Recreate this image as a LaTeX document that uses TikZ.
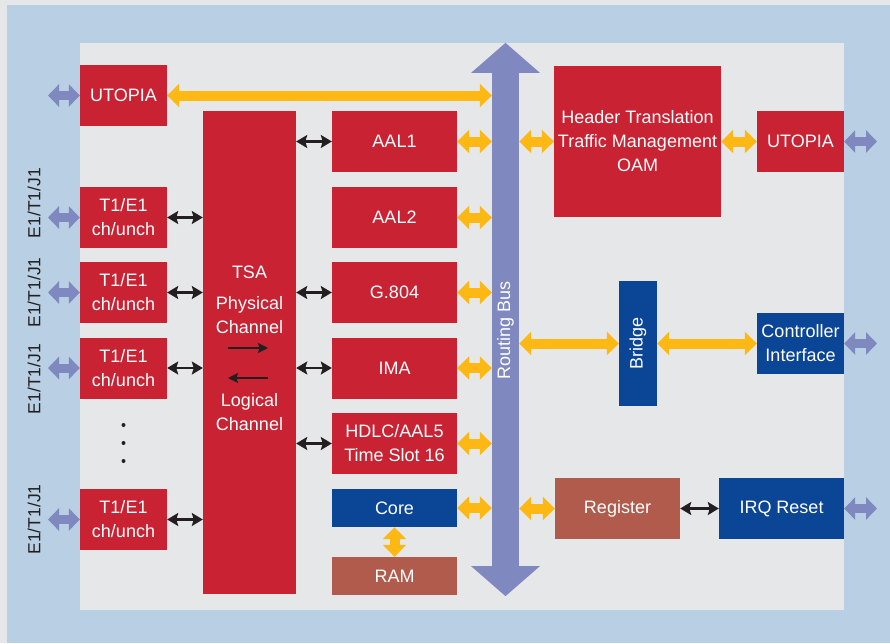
\documentclass[tikz,border=0pt]{standalone}
\usepackage{fontspec}
\setmainfont{Liberation Sans}
\usetikzlibrary{arrows.meta}
\definecolor{bgblue}{HTML}{B9CFE3}
\definecolor{panel}{HTML}{E6E7E9}
\definecolor{outerbg}{HTML}{E6E7E8}
\definecolor{boxred}{HTML}{C92233}
\definecolor{boxblue}{HTML}{0B4595}
\definecolor{boxbrown}{HTML}{B05B4B}
\definecolor{busblue}{HTML}{7F89C0}
\definecolor{orng}{HTML}{FDB813}
\definecolor{txt}{HTML}{231F20}
\tikzset{
  blk/.style={fill=boxred,text=white,inner sep=0pt,align=center,font=\fontsize{18}{24}\selectfont},
  redbox/.style={blk,fill=boxred},
  bluebox/.style={blk,fill=boxblue},
  brownbox/.style={blk,fill=boxbrown},
  sidelabel/.style={text=txt,rotate=90,font=\fontsize{17.5}{20}\selectfont,inner sep=0pt},
  orangearrow/.style={draw=orng,line width=10pt,{Triangle[width=23pt,length=12pt]}-{Triangle[width=23pt,length=12pt]}},
  lavarrow/.style={draw=busblue,line width=9pt,{Triangle[width=22pt,length=11pt]}-{Triangle[width=22pt,length=11pt]}},
  blackarrow/.style={draw=txt,line width=2.2pt,{Stealth[width=13pt,length=11pt,inset=2pt]}-{Stealth[width=13pt,length=11pt,inset=2pt]}},
  thinarrow/.style={draw=txt,line width=1.5pt,-{Stealth[width=10pt,length=10pt,inset=1.5pt]}},
}
\begin{document}
\begin{tikzpicture}[x=1pt,y=-1pt]
\useasboundingbox (0,0) rectangle (890,643);
\fill[outerbg] (0,0) rectangle (890,643);
\fill[bgblue] (7,5) rectangle (890,643);
\fill[panel] (80,43) rectangle (844,610);

% left column
\node[redbox,minimum width=87pt,minimum height=61pt] (utopiaL) at (123.5,95.5) {UTOPIA};
\node[redbox,minimum width=87pt,minimum height=61pt] (t1) at (123.5,217.5) {T1/E1\\ch/unch};
\node[redbox,minimum width=87pt,minimum height=61pt] (t2) at (123.5,292.5) {T1/E1\\ch/unch};
\node[redbox,minimum width=87pt,minimum height=61pt] (t3) at (123.5,368) {T1/E1\\ch/unch};
\node[redbox,minimum width=87pt,minimum height=61pt] (t4) at (123.5,519.5) {T1/E1\\ch/unch};
\fill[txt] (123.5,425) circle (2pt) (123.5,443) circle (2pt) (123.5,461) circle (2pt);

\node[sidelabel] (l1) at (34,203) {E1/T1/J1};
\node[sidelabel] (l2) at (34,292.5) {E1/T1/J1};
\node[sidelabel] (l3) at (34,379) {E1/T1/J1};
\node[sidelabel] (l4) at (34,519.5) {E1/T1/J1};

% TSA
\node[redbox,minimum width=93pt,minimum height=483pt] (tsa) at (249.5,352.5) {};
\node[blk,fill=none] (tsaA) at (249.5,272) {TSA};
\node[blk,fill=none] (tsaB) at (249.5,315) {Physical\\Channel};
\node[blk,fill=none] (tsaC) at (249.5,412) {Logical\\Channel};
\coordinate (pa) at (228,348);
\coordinate (pb) at (268,348);
\coordinate (qa) at (268,378);
\coordinate (qb) at (228,378);
\draw[thinarrow] (pa) -- (pb);
\draw[thinarrow] (qa) -- (qb);

% middle column
\node[redbox,minimum width=125pt,minimum height=61pt] (aal1) at (394.5,141.5) {AAL1};
\node[redbox,minimum width=125pt,minimum height=61pt] (aal2) at (394.5,217.5) {AAL2};
\node[redbox,minimum width=125pt,minimum height=61pt] (g804) at (394.5,292.5) {G.804};
\node[redbox,minimum width=125pt,minimum height=61pt] (ima) at (394.5,368) {IMA};
\node[redbox,minimum width=125pt,minimum height=61pt] (hdlc) at (394.5,443.5) {HDLC/AAL5\\Time Slot 16};
\node[bluebox,minimum width=125pt,minimum height=38pt] (core) at (394.5,508) {Core};
\node[brownbox,minimum width=125pt,minimum height=38pt] (ram) at (394.5,576) {RAM};

% routing bus
\node[minimum width=27pt,minimum height=553pt,inner sep=0pt] (bus) at (505.5,319.5) {};
\draw[busblue,line width=27pt,{Triangle[width=67pt,length=30pt]}-{Triangle[width=67pt,length=30pt]}] (bus.north) -- (bus.south);
\node[rotate=90,text=white,font=\fontsize{18}{24}\selectfont,inner sep=0pt] (buslabel) at (505.5,330) {Routing Bus};

% right column
\node[redbox,minimum width=167pt,minimum height=151pt] (hdr) at (637.5,141.5) {Header Translation\\Traffic Management\\OAM};
\node[redbox,minimum width=87pt,minimum height=61pt] (utopiaR) at (800.5,141.5) {UTOPIA};
\node[bluebox,minimum width=38pt,minimum height=125pt] (bridge) at (638,343.5) {};
\node[rotate=90,text=white,font=\fontsize{18}{24}\selectfont,inner sep=0pt] (bridgelabel) at (638,343.5) {Bridge};
\node[bluebox,minimum width=87pt,minimum height=61pt] (ctrl) at (800.5,343.5) {Controller\\Interface};
\node[brownbox,minimum width=125pt,minimum height=61pt] (reg) at (617.5,508.5) {Register};
\node[bluebox,minimum width=125pt,minimum height=61pt] (irq) at (781.5,508.5) {IRQ Reset};

% external lavender arrows
\coordinate (eL) at (48,0);
\coordinate (eR) at (877,0);
\foreach \n in {utopiaL,t1,t2,t3,t4} \draw[lavarrow] (\n.west -| eL) -- (\n.west);
\foreach \n in {utopiaR,ctrl,irq} \draw[lavarrow] (\n.east) -- (\n.east -| eR);

% black arrows
\foreach \n in {t1,t2,t3,t4} \draw[blackarrow] (\n.east) -- (\n.east -| tsa.west);
\foreach \n in {aal1,g804,ima,hdlc} \draw[blackarrow] (\n.west -| tsa.east) -- (\n.west);
\draw[blackarrow] (reg) -- (irq);

% orange arrows
\draw[orangearrow] (utopiaL.east) -- (utopiaL.east -| bus.west);
\foreach \n in {aal1,aal2,g804,ima,hdlc,core} \draw[orangearrow] (\n.east) -- (\n.east -| bus.west);
\draw[orangearrow] (hdr.west -| bus.east) -- (hdr.west);
\draw[orangearrow] (hdr) -- (utopiaR);
\draw[orangearrow] (bridge.west -| bus.east) -- (bridge.west);
\draw[orangearrow] (bridge) -- (ctrl);
\draw[orangearrow] (reg.west -| bus.east) -- (reg.west);
\draw[orangearrow] (core) -- (ram);
\end{tikzpicture}
\end{document}
